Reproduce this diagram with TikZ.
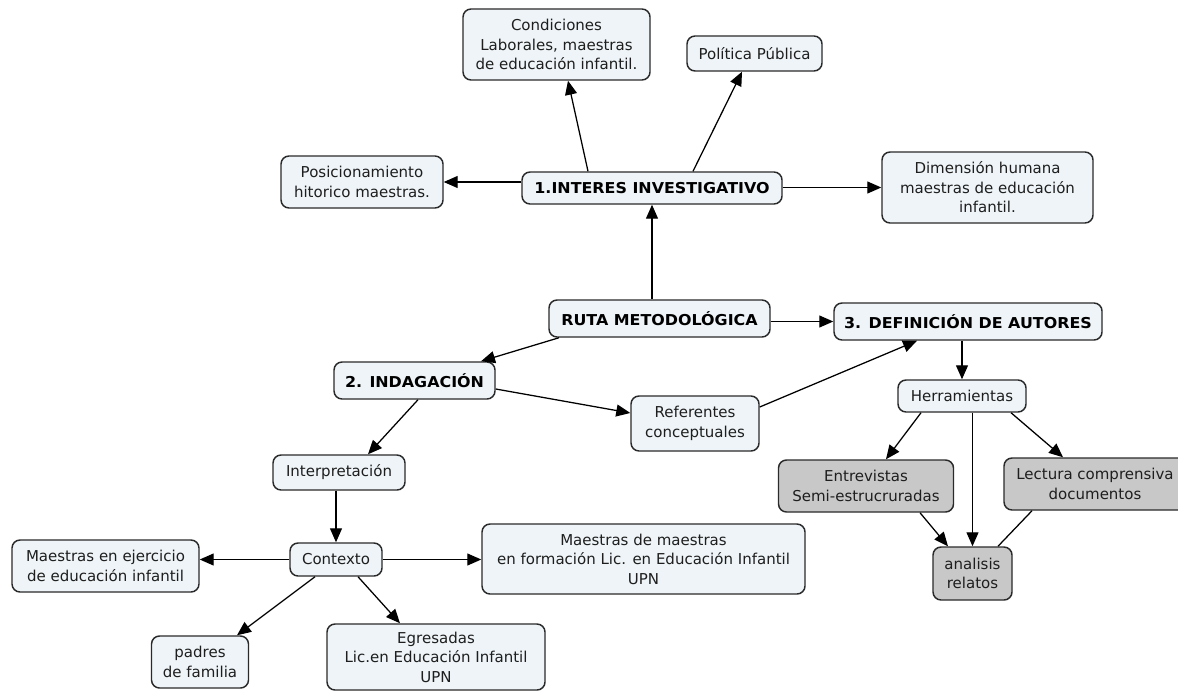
\documentclass[tikz,border=0pt]{standalone}
\usepackage{fontspec}
\setmainfont{DejaVu Sans}
\newfontfamily\boldfam[FakeStretch=1.06]{DejaVu Sans Bold}
\usetikzlibrary{calc,arrows.meta}
\definecolor{boxfill}{HTML}{EEF4F7}
\definecolor{grayfill}{HTML}{C8C8C8}
\definecolor{edge}{HTML}{2A2A2A}
\definecolor{txt}{HTML}{1E1E1E}
\tikzset{
  box/.style={draw=edge, line width=1.1pt, rounded corners=6pt, fill=boxfill,
    align=center, inner sep=0pt, text=txt,
    font=\fontsize{11.25pt}{14.6pt}\selectfont},
  gbox/.style={box, fill=grayfill},
  bbox/.style={box, font=\fontsize{11.25pt}{14.6pt}\boldfam, text=black},
  arr/.style={draw=black, line width=0.95pt, -{Triangle[length=10.5pt,width=9pt]}},
  ln/.style={draw=black, line width=0.95pt}
}
\begin{document}
\begin{tikzpicture}[x=0.75pt,y=-0.75pt]
\useasboundingbox (0,0) rectangle (1178,692);
\clip (0,0) rectangle (1178,692);
\fill[white] (0,0) rectangle (1178,692);

% nodes
\node[box, minimum width=140.25pt, minimum height=53.25pt] (cond) at (556.5,44.5) {Condiciones\\Laborales, maestras\\de educación infantil.};
\node[box, minimum width=101.25pt, minimum height=26.25pt] (pol) at (754.5,53.5) {Política Pública};
\node[box, minimum width=121.5pt, minimum height=39pt] (pos) at (362,182) {Posicionamiento\\hitorico maestras.};
\node[bbox, minimum width=195pt, minimum height=24pt] (int) at (652,188) {1.INTERES INVESTIGATIVO};
\node[box, minimum width=158.25pt, minimum height=53.25pt] (dim) at (987.5,187.5) {Dimensión humana\\maestras de educación\\infantil.};
\node[bbox, minimum width=165.75pt, minimum height=27.75pt] (ruta) at (659.5,318.5) {RUTA METODOLÓGICA};
\node[bbox, minimum width=201pt, minimum height=27.75pt] (def) at (968,321.5) {3. DEFINICIÓN DE AUTORES};
\node[bbox, minimum width=120.75pt, minimum height=27.75pt] (ind) at (414.5,380.5) {2. INDAGACIÓN};
\node[box, minimum width=96pt, minimum height=41.25pt] (ref) at (695,423.5) {Referentes\\conceptuales};
\node[box, minimum width=96pt, minimum height=24pt] (her) at (962,396) {Herramientas};
\node[gbox, minimum width=131.25pt, minimum height=39pt] (ent) at (866,486) {Entrevistas\\Semi-estrucruradas};
\node[gbox, minimum width=136.5pt, minimum height=39pt] (lec) at (1095,484) {Lectura comprensiva\\documentos};
\node[gbox, minimum width=59.25pt, minimum height=39.75pt] (ana) at (972.5,573.5) {analisis\\relatos};
\node[box, minimum width=99pt, minimum height=26.25pt] (interp) at (339,472.5) {Interpretación};
\node[box, minimum width=69pt, minimum height=24.75pt] (ctx) at (336,559.5) {Contexto};
\node[box, minimum width=140.25pt, minimum height=39pt] (mej) at (105.5,566) {Maestras en ejercicio\\de educación infantil};
\node[box, minimum width=242.25pt, minimum height=52.5pt] (mm) at (643.5,559) {Maestras de maestras\\en formación Lic. en Educación Infantil\\UPN};
\node[box, minimum width=72.75pt, minimum height=39pt] (padres) at (200,662) {padres\\de familia};
\node[box, minimum width=163.5pt, minimum height=49.5pt] (egr) at (436,657) {Egresadas\\Lic.en Educación Infantil\\UPN};

% connectors
\draw[arr] ($(int.north)+(-64,0)$) -- ($(cond.south)+(11.5,0)$);
\draw[arr] ($(int.north)+(41,0)$) -- ($(pol.south)+(-12.5,0)$);
\draw[arr] (int.west |- pos.east) -- (pos.east);
\draw[arr] (int.east |- dim.west) -- (dim.west);
\draw[arr] (ruta.north -| int.south) -- (int.south);
\draw[arr] (ruta.east |- def.west) -- (def.west);
\draw[arr] ($(ruta.south)+(-100.5,0)$) -- ($(ind.north)+(66.5,0)$);
\draw[arr] ($(ind.east)+(0,8.5)$) -- ($(ref.west)+(0,-10.5)$);
\draw[arr] ($(ref.east)+(0,-16.5)$) -- ($(def.south)+(-51,0)$);
\draw[arr] (def.south -| her.north) -- (her.north);
\draw[arr] ($(her.south)+(-41,0)$) -- ($(ent.north)+(20,0)$);
\draw[arr] ($(her.south)+(49,0)$) -- ($(lec.north)+(-32,0)$);
\draw[arr] (her.south -| ana.north) -- (ana.north);
\draw[arr] ($(ent.south)+(54,0)$) -- ($(ana.north)+(-24.5,0)$);
\draw[ln] ($(lec.south)+(-63,0)$) -- ($(ana.north)+(25.5,0)$);
\draw[arr] ($(ind.south)+(3.5,0)$) -- ($(interp.north)+(29,0)$);
\draw[arr] (interp.south -| ctx.north) -- (ctx.north);
\draw[arr] (ctx.west) -- (ctx.west -| mej.east);
\draw[arr] (ctx.east) -- (ctx.east -| mm.west);
\draw[arr] ($(ctx.south)+(-21,0)$) -- ($(padres.north)+(37,0)$);
\draw[arr] ($(ctx.south)+(22,0)$) -- ($(egr.north)+(-36,0)$);
\end{tikzpicture}
\end{document}
